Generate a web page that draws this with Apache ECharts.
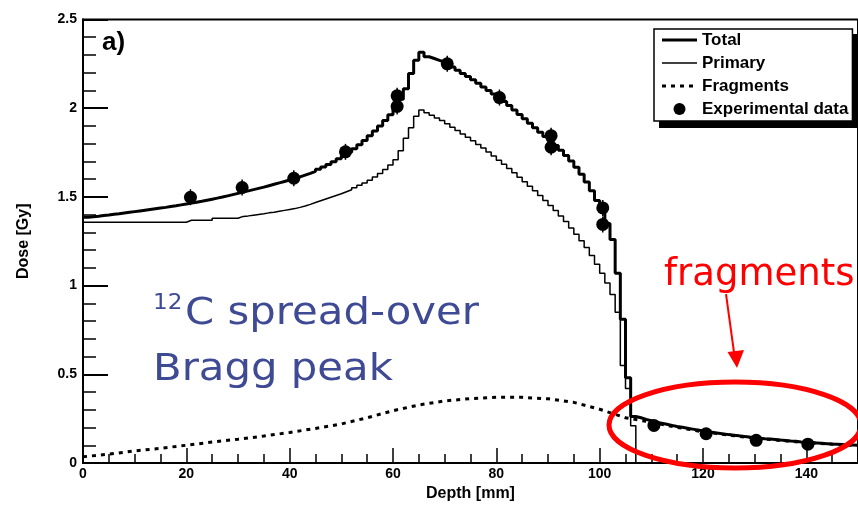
<!DOCTYPE html>
<html>
<head>
<meta charset="utf-8">
<script src="https://cdn.jsdelivr.net/npm/echarts@6/dist/echarts.min.js"></script>
<style>
  html, body { margin: 0; padding: 0; background: #fff; }
  #chart { width: 858px; height: 507px; }
</style>
</head>
<body>
<div id="chart"></div>
<script>
// Depth-dose histograms, 1 mm bins starting at 0 mm
const BIN_START = 0;
const BIN_WIDTH = 1;

const TOTAL_DOSE = [
  1.385, 1.388, 1.391, 1.395, 1.398, 1.402, 1.405, 1.409, 1.413, 1.417,
  1.421, 1.425, 1.429, 1.433, 1.437, 1.441, 1.446, 1.450, 1.455, 1.460,
  1.465, 1.470, 1.475, 1.481, 1.487, 1.493, 1.499, 1.506, 1.513, 1.520,
  1.527, 1.534, 1.541, 1.548, 1.555, 1.563, 1.571, 1.579, 1.587, 1.595,
  1.604, 1.613, 1.623, 1.633, 1.644, 1.656, 1.669, 1.683, 1.698, 1.715,
  1.733, 1.752, 1.772, 1.794, 1.818, 1.845, 1.872, 1.900, 1.930, 1.963,
  2.000, 2.050, 2.110, 2.195, 2.270, 2.315, 2.290, 2.280, 2.270, 2.260,
  2.248, 2.232, 2.214, 2.196, 2.178, 2.160, 2.140, 2.120, 2.100, 2.080,
  2.060, 2.038, 2.015, 1.990, 1.965, 1.940, 1.915, 1.890, 1.865, 1.840,
  1.815, 1.790, 1.763, 1.734, 1.702, 1.667, 1.628, 1.584, 1.535, 1.480,
  1.420, 1.350, 1.260, 1.070, 0.810, 0.480, 0.262, 0.255, 0.246, 0.238,
  0.230, 0.224, 0.218, 0.212, 0.206, 0.201, 0.196, 0.191, 0.186, 0.181,
  0.176, 0.172, 0.168, 0.164, 0.160, 0.157, 0.153, 0.150, 0.146, 0.143,
  0.140, 0.137, 0.135, 0.132, 0.129, 0.127, 0.124, 0.122, 0.119, 0.117,
  0.115, 0.113, 0.111, 0.109, 0.107, 0.106, 0.104, 0.102, 0.101, 0.100
];

const PRIMARY_DOSE = [
  1.357, 1.357, 1.357, 1.357, 1.357, 1.357, 1.357, 1.357, 1.357, 1.357,
  1.357, 1.357, 1.357, 1.357, 1.357, 1.357, 1.357, 1.357, 1.357, 1.357,
  1.368, 1.368, 1.368, 1.368, 1.368, 1.380, 1.380, 1.380, 1.380, 1.380,
  1.390, 1.393, 1.397, 1.401, 1.405, 1.410, 1.414, 1.419, 1.424, 1.429,
  1.434, 1.441, 1.449, 1.458, 1.468, 1.478, 1.488, 1.498, 1.508, 1.518,
  1.529, 1.540, 1.552, 1.565, 1.579, 1.594, 1.612, 1.632, 1.655, 1.680,
  1.710, 1.760, 1.830, 1.890, 1.955, 1.990, 1.975, 1.960, 1.945, 1.930,
  1.912, 1.893, 1.874, 1.855, 1.836, 1.816, 1.796, 1.775, 1.753, 1.730,
  1.707, 1.684, 1.660, 1.636, 1.611, 1.586, 1.560, 1.534, 1.508, 1.480,
  1.452, 1.423, 1.393, 1.362, 1.325, 1.290, 1.253, 1.215, 1.170, 1.120,
  1.070, 1.015, 0.950, 0.850, 0.550, 0.420, 0.210, 0, 0, 0,
  0, 0, 0, 0, 0, 0, 0, 0, 0, 0,
  0, 0, 0, 0, 0, 0, 0, 0, 0, 0,
  0, 0, 0, 0, 0, 0, 0, 0, 0, 0,
  0, 0, 0, 0, 0, 0, 0, 0, 0, 0
];

// Fragment contribution, sampled every 5 mm
const FRAG_DEPTH = [
  0, 5, 10, 15, 20, 25, 30, 35, 40, 45, 50, 55, 60, 65, 70, 75,
  80, 85, 90, 95, 100, 105, 110, 115, 120, 125, 130, 135, 140, 145, 150
];
const FRAG_DOSE = [
  0.035, 0.050, 0.068, 0.083, 0.100, 0.118, 0.134, 0.152, 0.172, 0.195, 0.220, 0.255, 0.295, 0.327, 0.350, 0.363,
  0.370, 0.370, 0.362, 0.342, 0.303, 0.255, 0.230, 0.201, 0.176, 0.157, 0.140, 0.127, 0.115, 0.106, 0.099
];

// Measured points with their uncertainties
const EXP_DEPTH = [20.8, 30.8, 40.8, 50.8, 60.8, 60.8, 70.5, 80.6, 90.6, 90.6, 100.6, 100.6, 110.5, 120.6, 130.3, 140.3];
const EXP_DOSE  = [1.498, 1.553, 1.605, 1.754, 2.070, 2.010, 2.250, 2.060, 1.845, 1.780, 1.438, 1.345, 0.212, 0.165, 0.128, 0.106];
const EXP_ERR   = [0.045, 0.045, 0.045, 0.045, 0.045, 0.045, 0.045, 0.045, 0.045, 0.045, 0.045, 0.045, 0.030, 0.030, 0.030, 0.030];

const SERIES_NAMES = ['Total', 'Primary', 'Fragments', 'Experimental data'];
const X_RANGE = [0, 150];
const Y_RANGE = [0, 2.5];

// Turn bin contents into step-line vertices (left edge of every bin + closing edge)
function histogramPoints(values) {
  const pts = values.map((v, i) => [BIN_START + i * BIN_WIDTH, v]);
  pts.push([BIN_START + values.length * BIN_WIDTH, values[values.length - 1]]);
  return pts;
}

const SANS = '"Liberation Sans", Arial, Helvetica, sans-serif';
const SLIDE = '"DejaVu Sans", Verdana, sans-serif';
const BLUE = '#3f4a94';
const RED = '#ff0000';

// Legend frame geometry (the box sits at LEGEND_POS, its drop shadow is drawn behind it)
const LEGEND_POS = { left: 654, top: 29 };
const LEGEND_BOX = { width: 198, height: 94 };
const LEGEND_SHADOW = 5;

const chart = echarts.init(document.getElementById('chart'), null, { renderer: 'canvas' });

const option = {
  animation: false,
  backgroundColor: '#ffffff',
  grid: {
    left: 83, top: 19.5, width: 783, height: 448.5,
    show: true, borderColor: '#000', borderWidth: 2, backgroundColor: 'transparent'
  },
  xAxis: [
    {
      type: 'value', min: X_RANGE[0], max: X_RANGE[1], interval: 20, position: 'bottom',
      name: 'Depth [mm]', nameLocation: 'middle', nameGap: 23,
      nameTextStyle: { fontFamily: SANS, fontWeight: 'bold', fontSize: 16, color: '#000' },
      axisLine: { show: true, onZero: false, lineStyle: { color: '#000', width: 2 } },
      axisTick: { show: true, inside: true, length: 15, lineStyle: { color: '#000', width: 1.5 } },
      axisLabel: { margin: 4, fontFamily: SANS, fontWeight: 'bold', fontSize: 14, color: '#000', showMaxLabel: false },
      splitLine: { show: false }
    },
    {
      // fine 5 mm ticks along the bottom edge
      type: 'value', min: X_RANGE[0], max: X_RANGE[1], interval: 5, position: 'top',
      axisLine: { show: false, onZero: true },
      axisTick: { show: true, inside: false, length: 9, lineStyle: { color: '#000', width: 1.5 } },
      axisLabel: { show: false },
      splitLine: { show: false }
    }
  ],
  yAxis: {
    type: 'value', min: Y_RANGE[0], max: Y_RANGE[1], interval: 0.5,
    name: 'Dose [Gy]', nameLocation: 'middle', nameGap: 51, nameRotate: 90,
    nameTextStyle: { fontFamily: SANS, fontWeight: 'bold', fontSize: 16, color: '#000' },
    axisLine: { show: true, lineStyle: { color: '#000', width: 2 } },
    axisTick: { show: true, inside: true, length: 25, lineStyle: { color: '#000', width: 2 } },
    minorTick: { show: true, splitNumber: 5, length: 13, lineStyle: { color: '#000', width: 1.5 } },
    axisLabel: { margin: 6, fontFamily: SANS, fontWeight: 'bold', fontSize: 14, color: '#000' },
    splitLine: { show: false },
    minorSplitLine: { show: false }
  },
  legend: {
    orient: 'vertical', left: LEGEND_POS.left, top: LEGEND_POS.top,
    width: LEGEND_BOX.width, height: LEGEND_BOX.height,
    itemWidth: 35, itemHeight: 12, itemGap: 6,
    padding: [2.5, 4, 3.5, 6.5],
    backgroundColor: '#fff', borderColor: '#000', borderWidth: 1.5,
    selectedMode: false,
    z: 20,
    textStyle: { fontFamily: SANS, fontWeight: 'bold', fontSize: 17, color: '#000' },
    data: [
      { name: SERIES_NAMES[0], itemStyle: { opacity: 0 }, lineStyle: { width: 3, color: '#000', type: 'solid' } },
      { name: SERIES_NAMES[1], itemStyle: { opacity: 0 }, lineStyle: { width: 1.5, color: '#000', type: 'solid' } },
      { name: SERIES_NAMES[2], itemStyle: { opacity: 0 }, lineStyle: { width: 3, color: '#000', type: [4, 5] } },
      { name: SERIES_NAMES[3], icon: 'circle', itemStyle: { color: '#000' } }
    ]
  },
  series: [
    {
      name: SERIES_NAMES[2], type: 'line', xAxisIndex: 0, yAxisIndex: 0,
      data: FRAG_DEPTH.map((d, i) => [d, FRAG_DOSE[i]]),
      symbol: 'none', smooth: false, z: 2, color: '#000',
      lineStyle: { color: '#000', width: 3, type: [4, 5], cap: 'butt' }
    },
    {
      name: SERIES_NAMES[1], type: 'line', xAxisIndex: 0, yAxisIndex: 0,
      data: histogramPoints(PRIMARY_DOSE), step: 'end',
      symbol: 'none', z: 3, color: '#000',
      lineStyle: { color: '#000', width: 1.5 }
    },
    {
      name: SERIES_NAMES[0], type: 'line', xAxisIndex: 0, yAxisIndex: 0,
      data: histogramPoints(TOTAL_DOSE), step: 'end',
      symbol: 'none', z: 4, color: '#000',
      lineStyle: { color: '#000', width: 3 }
    },
    {
      name: SERIES_NAMES[3], type: 'custom', xAxisIndex: 0, yAxisIndex: 0, z: 5,
      color: '#000', itemStyle: { color: '#000' },
      data: EXP_DEPTH.map((d, i) => [d, EXP_DOSE[i], EXP_ERR[i]]),
      encode: { x: 0, y: 1 },
      renderItem: function (params, api) {
        const x = api.value(0), y = api.value(1), e = api.value(2);
        const c = api.coord([x, y]);
        const hi = api.coord([x, y + e]);
        const lo = api.coord([x, y - e]);
        return {
          type: 'group',
          children: [
            { type: 'line', shape: { x1: c[0], y1: hi[1], x2: c[0], y2: lo[1] },
              style: { stroke: '#000', lineWidth: 1.5 } },
            { type: 'circle', shape: { cx: c[0], cy: c[1], r: 6.5 }, style: { fill: '#000' } }
          ]
        };
      }
    }
  ],
  graphic: [
    // drop shadow behind the legend frame
    { type: 'rect', z: 1,
      shape: { x: LEGEND_POS.left + LEGEND_SHADOW, y: LEGEND_POS.top + LEGEND_SHADOW,
               width: LEGEND_BOX.width, height: LEGEND_BOX.height },
      style: { fill: '#000' } },
    { type: 'text', x: 102, y: 43, z: 10,
      style: { text: 'a)', font: 'bold 26px ' + SANS, fill: '#000', align: 'left', verticalAlign: 'middle' } },
    { type: 'text', x: 153, y: 304, scaleX: 1.1, z: 10,
      style: { text: '12', font: '21px ' + SLIDE, fill: BLUE, align: 'left', verticalAlign: 'middle' } },
    { type: 'text', x: 185, y: 314, scaleX: 1.1, z: 10,
      style: { text: 'C spread-over', font: '38px ' + SLIDE, fill: BLUE, align: 'left', verticalAlign: 'middle' } },
    { type: 'text', x: 153, y: 370, scaleX: 1.1, z: 10,
      style: { text: 'Bragg peak', font: '38px ' + SLIDE, fill: BLUE, align: 'left', verticalAlign: 'middle' } },
    { type: 'text', x: 664, y: 275, z: 10,
      style: { text: 'fragments', font: '37px ' + SLIDE, fill: RED, align: 'left', verticalAlign: 'middle' } },
    { type: 'line', z: 10, shape: { x1: 726, y1: 294, x2: 734.5, y2: 356 },
      style: { stroke: RED, lineWidth: 2 } },
    { type: 'polygon', z: 10, shape: { points: [[727.5, 352], [744, 350], [737, 368]] },
      style: { fill: RED } },
    { type: 'ellipse', z: 10, shape: { cx: 735, cy: 425, rx: 126, ry: 43 },
      style: { fill: 'none', stroke: RED, lineWidth: 5 } }
  ]
};

chart.setOption(option);
</script>
</body>
</html>
